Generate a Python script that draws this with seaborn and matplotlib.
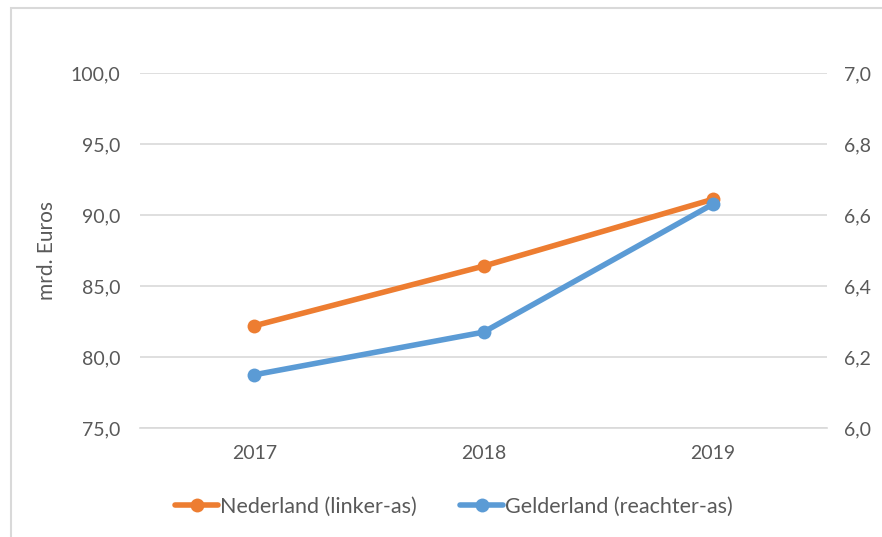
import pandas as pd
import matplotlib.pyplot as plt
import matplotlib.patches as mpatches
import seaborn as sns
from matplotlib.ticker import FuncFormatter

# data
years = ["2017", "2018", "2019"]
nederland = [82.2, 86.4, 91.1]      # linker-as, mrd. Euros
gelderland = [6.15, 6.27, 6.63]     # rechter-as

df = pd.DataFrame({"Jaar": years, "Nederland": nederland, "Gelderland": gelderland})
df["x"] = range(len(years))

sns.set_theme(style="white")
plt.rcParams['font.family'] = ['Lato', 'DejaVu Sans']
grey = "#595959"

fig = plt.figure(figsize=(8.82, 5.37), dpi=100)
ax = fig.add_axes([0.1587, 0.203, 0.779, 0.661])
ax2 = ax.twinx()

orange = "#ED7D31"
blue = "#5B9BD5"

sns.lineplot(data=df, x="x", y="Nederland", ax=ax, color=orange, linewidth=4,
             marker="o", markersize=10, markeredgewidth=0, label="Nederland (linker-as)",
             legend=False, zorder=3)
sns.lineplot(data=df, x="x", y="Gelderland", ax=ax2, color=blue, linewidth=4,
             marker="o", markersize=10, markeredgewidth=0, label="Gelderland (reachter-as)",
             legend=False, zorder=3)

ax.set_xlim(-0.5, 2.5)
ax.set_ylim(75, 100)
ax2.set_ylim(6.0, 7.0)
ax.set_yticks([75, 80, 85, 90, 95, 100])
ax2.set_yticks([6.0, 6.2, 6.4, 6.6, 6.8, 7.0])
ax.set_xticks(df["x"])
ax.set_xticklabels(years)

comma = lambda fmt: FuncFormatter(lambda v, p: (fmt % v).replace(".", ","))
ax.yaxis.set_major_formatter(comma("%.1f"))
ax2.yaxis.set_major_formatter(comma("%.1f"))

ax.grid(axis="y", color="#D9D9D9", linewidth=1.2)
ax.set_axisbelow(True)
for a in (ax, ax2):
    for s in a.spines.values():
        s.set_visible(False)
    a.tick_params(length=0, labelsize=14, labelcolor=grey, pad=14)
ax.spines["bottom"].set_visible(True)
ax.spines["bottom"].set_color("#D9D9D9")
ax.spines["bottom"].set_linewidth(1.2)
ax.tick_params(axis="x", pad=12)
ax2.tick_params(axis="y", pad=12)

ax.set_xlabel("")
ax.set_ylabel("mrd. Euros", fontsize=15, color=grey, labelpad=10)
ax2.set_ylabel("")

h1, l1 = ax.get_legend_handles_labels()
h2, l2 = ax2.get_legend_handles_labels()
fig.legend(h1 + h2, l1 + l2, loc="center", bbox_to_anchor=(0.515, 0.056), ncol=2,
           frameon=False, fontsize=15.5, labelcolor=grey, handlelength=2.0,
           handletextpad=0.1, columnspacing=2.0)

# chart frame
fig.patches.append(mpatches.Rectangle((11 / 882, -0.01), 1.0, 1 - 8 / 537 + 0.01,
                                      transform=fig.transFigure, fill=False,
                                      edgecolor="#D9D9D9", linewidth=1.5))

plt.savefig("out.png", dpi=100)
plt.close()
